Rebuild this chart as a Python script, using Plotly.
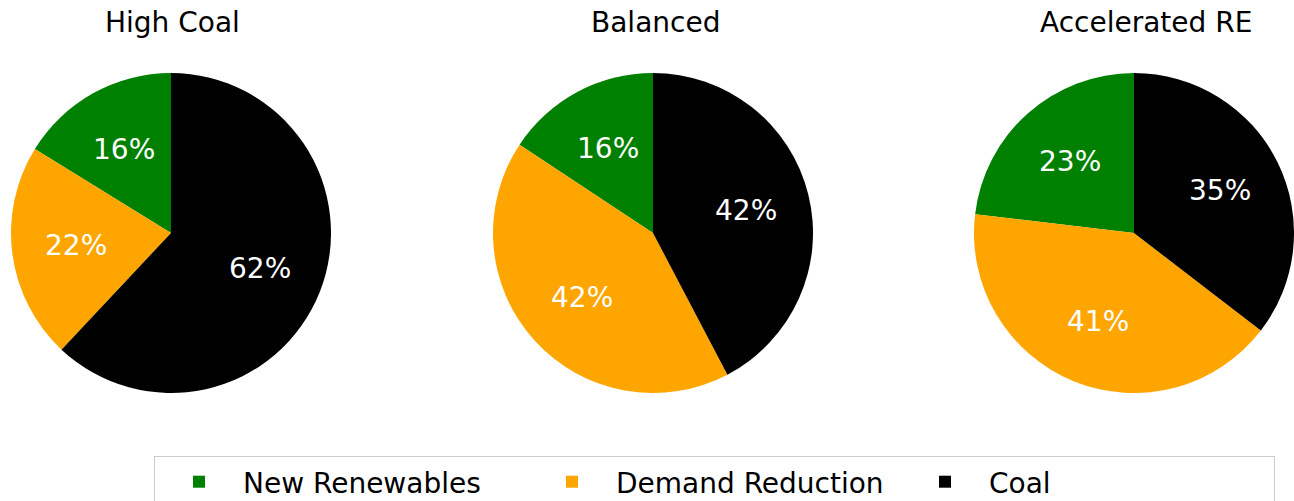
import math
import plotly.graph_objects as go

W, H = 1294, 501

categories = ["New Renewables", "Demand Reduction", "Coal"]
colors = ["#008000", "#FFA500", "#000000"]
scenarios = ["High Coal", "Balanced", "Accelerated RE"]
high_coal = [16.2, 21.8, 62.0]
balanced = [15.7, 42.0, 42.3]
accelerated_re = [23.1, 41.4, 35.4]
series = [high_coal, balanced, accelerated_re]

# layout (pixels)
centers_x = [171, 653, 1134]
title_x = [172, 655, 1146]
center_y = 233
radius = 160
FONT = "DejaVu Sans"

fig = go.Figure()
annotations = []
for i, (name, vals) in enumerate(zip(scenarios, series)):
    cx = centers_x[i]
    total = sum(vals)
    x0, x1 = max(0.0, (cx - radius) / W), min(1.0, (cx + radius) / W)
    y0, y1 = 1 - (center_y + radius) / H, 1 - (center_y - radius) / H
    # start the first slice at 12 o'clock and run counter-clockwise
    first_angle = 360.0 * vals[0] / total
    fig.add_trace(go.Pie(
        labels=categories, values=vals, sort=False, direction="counterclockwise",
        rotation=-first_angle, marker=dict(colors=colors, line=dict(width=0)),
        textinfo="none", hoverinfo="label+percent", name=name,
        domain=dict(x=[x0, x1], y=[y0, y1]), showlegend=(i == 0),
    ))
    start = 90.0
    for v in vals:
        span = 360.0 * v / total
        mid = math.radians(start + span / 2)
        px = cx + 0.6 * radius * math.cos(mid)
        py = center_y - 0.6 * radius * math.sin(mid)
        annotations.append(dict(
            x=px / W, y=1 - py / H, xref="paper", yref="paper",
            text=f"{round(100 * v / total):.0f}%", showarrow=False,
            font=dict(family=FONT, size=28, color="white"),
            xanchor="center", yanchor="middle",
        ))
        start += span
    annotations.append(dict(
        x=title_x[i] / W, y=1 - 23 / H, xref="paper", yref="paper",
        text=name, showarrow=False, font=dict(family=FONT, size=28, color="black"),
        xanchor="center", yanchor="middle",
    ))

fig.update_layout(
    width=W, height=H, margin=dict(l=0, r=0, t=0, b=0, autoexpand=False),
    paper_bgcolor="white", plot_bgcolor="white",
    font=dict(family=FONT, size=28, color="black"),
    annotations=annotations,
    legend=dict(
        orientation="h", x=154 / W, xanchor="left", y=1 - 456 / H, yanchor="top",
        bordercolor="#cccccc", borderwidth=1, bgcolor="white",
        font=dict(family=FONT, size=28, color="black"),
        itemwidth=78, entrywidth=280, entrywidthmode="pixels", traceorder="normal",
    ),
)
fig.write_html("out.html", config={"displayModeBar": False},
               post_script="document.body.style.margin='0';")
